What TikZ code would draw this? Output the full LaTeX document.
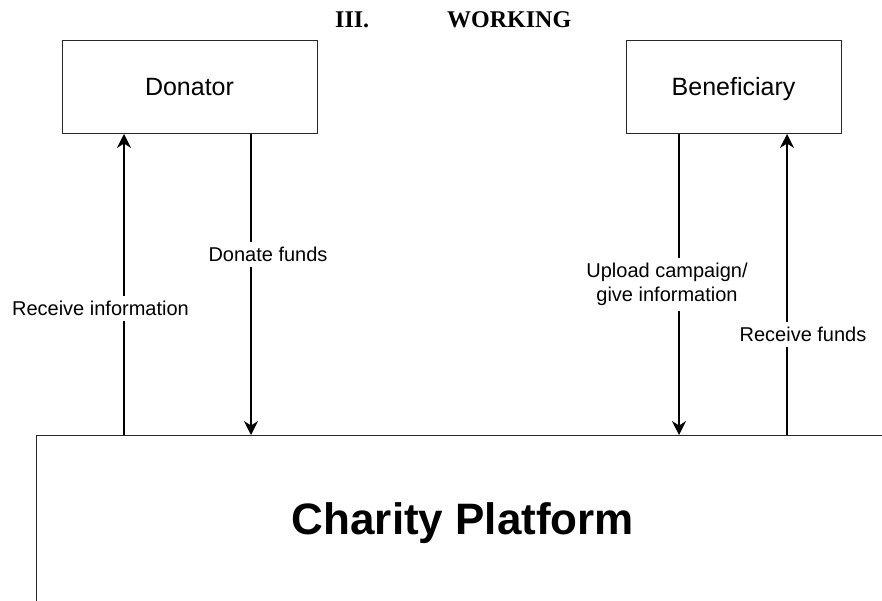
\documentclass[tikz,border=0pt]{standalone}
\usepackage{fontspec}
\setmainfont{Liberation Sans}
\newfontfamily\headfont{Liberation Serif}
\usetikzlibrary{positioning, arrows.meta}
\definecolor{boxline}{RGB}{40,40,40}
\tikzset{
    actor/.style={rectangle, draw=boxline, line width=1pt, minimum width=#1, minimum height=93pt, inner sep=0pt, outer sep=0pt, font=\fontsize{25}{30}\selectfont, text height=18pt, text depth=2pt},
    platform/.style={rectangle, draw=boxline, line width=1pt, minimum width=854pt, minimum height=177pt, inner sep=0pt, outer sep=0pt, font=\fontsize{44}{52}\selectfont\bfseries},
    arr/.style={-{Stealth[length=14pt, width=14pt]}, line width=1.5pt, color=black},
    lbl/.style={fill=white, inner sep=5pt, font=\fontsize{20}{24}\selectfont, align=center},
    hdr/.style={font=\headfont\fontsize{24}{28}\selectfont\bfseries, inner sep=0pt, anchor=base west}
}

\begin{document}
\begin{tikzpicture}[x=1pt, y=-1pt]
    \clip (0,0) rectangle (882,601);

    \node[hdr] (sec) at (335,28) {III.};
    \node[hdr] (ttl) at (447,28) {WORKING};

    \node[actor=255pt] (don) at (189.5,87.5) {Donator};
    \node[actor=215pt] (ben) at (733.5,87.5) {Beneficiary};
    \node[platform] (plat) at (463,523.5) {Charity Platform};

    \draw[arr] ([xshift=-65.5pt]don.south |- plat.north) -- node[lbl, pos=0.42, xshift=-23.5pt] {Receive information} ([xshift=-65.5pt]don.south);
    \draw[arr] ([xshift=61.5pt]don.south) -- node[lbl, pos=0.4, xshift=17pt] {Donate funds} ([xshift=61.5pt]don.south |- plat.north);
    \draw[arr] ([xshift=-54.5pt]ben.south) -- node[lbl, pos=0.5, xshift=-12pt] {Upload campaign/\\give information} ([xshift=-54.5pt]ben.south |- plat.north);
    \draw[arr] ([xshift=53.5pt]ben.south |- plat.north) -- node[lbl, pos=0.333, xshift=16pt] {Receive funds} ([xshift=53.5pt]ben.south);
\end{tikzpicture}
\end{document}
